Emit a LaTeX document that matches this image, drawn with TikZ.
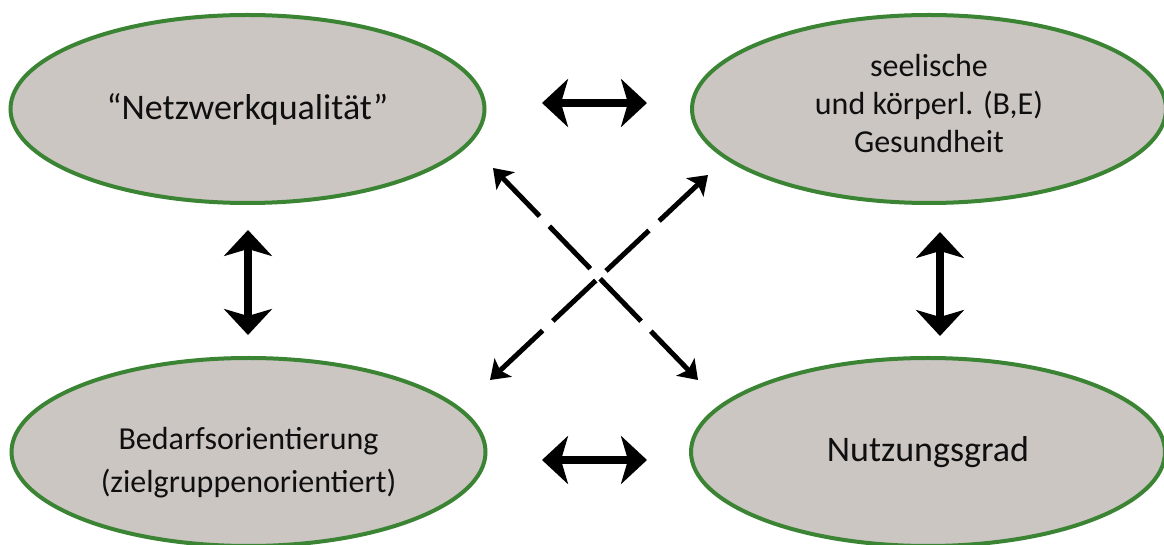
\documentclass[tikz,border=0pt]{standalone}
\usepackage{fontspec}
\setmainfont{Carlito}
\usetikzlibrary{arrows.meta,shapes.geometric}
\definecolor{ellfill}{RGB}{204,198,195}
\definecolor{ellline}{RGB}{58,132,52}
\definecolor{txt}{RGB}{15,15,15}
\begin{document}
\begin{tikzpicture}[x=0.5pt,y=-0.5pt,
  ell/.style={ellipse, draw=ellline, fill=ellfill, line width=2pt, inner sep=0pt,
    minimum width=237pt, minimum height=94pt, align=center, text=txt},
  bigtext/.style={font=\fontsize{18}{22}\selectfont},
  smalltext/.style={font=\fontsize{16}{19}\selectfont},
  smalltextb/.style={font=\fontsize{16}{21.5}\selectfont},
  thickarrow/.style={line width=4pt,
    {Stealth[length=13pt,width=24pt,inset=3.5pt]}-{Stealth[length=13pt,width=24pt,inset=3.5pt]}},
  crossarrow/.style={line width=2.5pt,
    {Stealth[length=9pt,width=12.5pt,inset=2pt]}-{Stealth[length=9pt,width=12.5pt,inset=2pt]},
    dash pattern=on 27pt off 7pt on 29.5pt off 7pt on 29.5pt off 7pt on 100pt}]
\useasboundingbox (0,0) rectangle (1164,545);
\fill[white] (0,0) rectangle (1164,545);

\node[ell,bigtext] (nq) at (247.5,109) {“Netzwerkqualität”};
\node[ell,smalltext,text depth=6pt] (gs) at (929,109) {seelische\\und körperl. (B,E)\\Gesundheit};
\node[ell,smalltextb,text height=43pt] (bo) at (248.5,452) {Bedarfsorientierung\\(zielgruppenorientiert)};
\node[ell,bigtext] (ng) at (928,452) {Nutzungsgrad};

\coordinate (h1a) at (542,103);
\coordinate (h1b) at (647,103);
\coordinate (h2a) at (542,460);
\coordinate (h2b) at (647,460);
\coordinate (v1a) at (248,230);
\coordinate (v1b) at (248,335);
\coordinate (v2a) at (940,232);
\coordinate (v2b) at (940,336);
\coordinate (cnw) at (493,168);
\coordinate (cse) at (698,380);
\coordinate (cne) at (708,175);
\coordinate (csw) at (490,380);

\draw[thickarrow] (h1a) -- (h1b);
\draw[thickarrow] (h2a) -- (h2b);
\draw[thickarrow] (v1a) -- (v1b);
\draw[thickarrow] (v2a) -- (v2b);
\draw[crossarrow] (cnw) -- (cse);
\draw[crossarrow] (cne) -- (csw);
\end{tikzpicture}
\end{document}
